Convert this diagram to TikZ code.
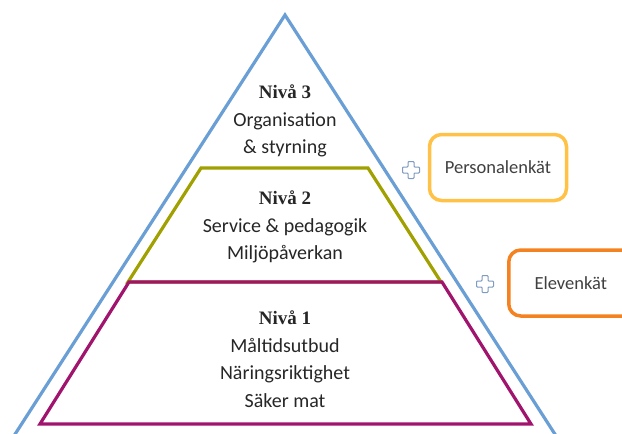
\documentclass[tikz,border=0pt]{standalone}
\usepackage{fontspec}
\setmainfont{Carlito}
\newfontfamily\nivafont{Liberation Serif}
\definecolor{pyrblue}{HTML}{6A9FD6}
\definecolor{pyrgreen}{HTML}{A0A000}
\definecolor{pyrpurple}{HTML}{A0146E}
\definecolor{boxgold}{HTML}{FFC247}
\definecolor{boxorange}{HTML}{F58220}
\definecolor{plusblue}{HTML}{7F9CC0}
\definecolor{pyrtext}{HTML}{262626}
\definecolor{boxtext}{HTML}{404040}
\tikzset{
  levelline/.style={line width=3.2pt, line join=miter},
  leveltext/.style={align=center, text=pyrtext, font=\fontsize{20}{27.5}\selectfont, inner sep=0pt},
  surveybox/.style={rounded corners=12pt, line width=3.5pt, fill=white, text=boxtext,
                    font=\fontsize{18.5}{22}\selectfont, inner sep=0pt, minimum height=66pt},
  plussign/.pic={\draw[plusblue, line width=1pt, fill=white, rounded corners=0.8pt]
     (-3,-8.5) -- (3,-8.5) -- (3,-3) -- (8.5,-3) -- (8.5,3) -- (3,3) -- (3,8.5)
     -- (-3,8.5) -- (-3,3) -- (-8.5,3) -- (-8.5,-3) -- (-3,-3) -- cycle;}
}
\newcommand{\niva}[1]{{\nivafont\bfseries\fontsize{19}{27.5}\selectfont #1}}
\begin{document}
\begin{tikzpicture}[x=1pt,y=-1pt]
\useasboundingbox (0,0) rectangle (622,434);
\clip (0,0) rectangle (622,434);
% pyramid
\draw[levelline, pyrblue] (11.3,440) -- (285,15) -- (558.7,440);
\draw[levelline, pyrgreen] (201,168) -- (368,168) -- (441,282) -- (128,282) -- cycle;
\draw[levelline, pyrpurple] (129,282) -- (442,282) -- (531,424) -- (40,424) -- cycle;
% level texts
\node[leveltext] (lvl3) at (285,121) {\niva{Nivå 3}\\Organisation\\\& styrning};
\node[leveltext] (lvl2) at (285,227) {\niva{Nivå 2}\\Service \& pedagogik\\Miljöpåverkan};
\node[leveltext] (lvl1) at (285,359) {\niva{Nivå 1}\\Måltidsutbud\\Näringsriktighet\\Säker mat};
% survey boxes
\node[surveybox, draw=boxgold, minimum width=137pt] (pers) at (498,167.5) {Personalenkät};
\node[surveybox, draw=boxorange, minimum width=140pt, anchor=west] (elev) at (507,283) {Elevenkät\hspace*{16pt}};
\pic (plusA) at (411,170) {plussign};
\pic (plusB) at (485,284) {plussign};
\end{tikzpicture}
\end{document}
